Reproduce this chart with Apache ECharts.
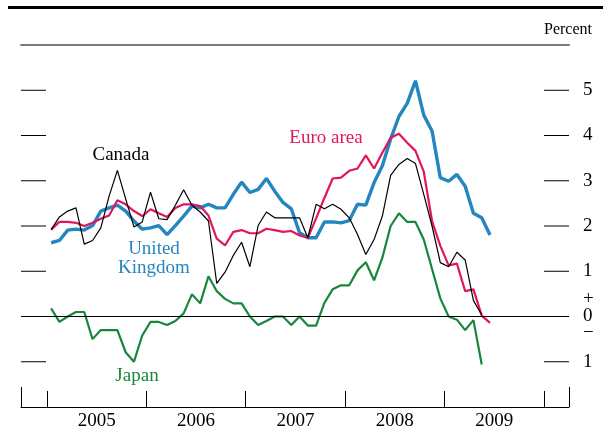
<!DOCTYPE html>
<html>
<head>
<meta charset="utf-8">
<script src="https://cdn.jsdelivr.net/npm/echarts@6/dist/echarts.min.js"></script>
<style>
  html, body { margin: 0; padding: 0; background: #fff; }
  #chart { width: 603px; height: 431px; }
</style>
</head>
<body>
<div id="chart"></div>
<script>
// Monthly observations, January 2005 onward
const months = [
  '2005-01','2005-02','2005-03','2005-04','2005-05','2005-06','2005-07','2005-08','2005-09','2005-10','2005-11','2005-12',
  '2006-01','2006-02','2006-03','2006-04','2006-05','2006-06','2006-07','2006-08','2006-09','2006-10','2006-11','2006-12',
  '2007-01','2007-02','2007-03','2007-04','2007-05','2007-06','2007-07','2007-08','2007-09','2007-10','2007-11','2007-12',
  '2008-01','2008-02','2008-03','2008-04','2008-05','2008-06','2008-07','2008-08','2008-09','2008-10','2008-11','2008-12',
  '2009-01','2009-02','2009-03','2009-04','2009-05','2009-06'
];

const canada = [
  1.92, 2.20, 2.33, 2.40, 1.60, 1.68, 1.96, 2.66, 3.23, 2.60, 1.98, 2.09,
  2.75, 2.16, 2.14, 2.46, 2.80, 2.46, 2.31, 2.11, 0.73, 0.98, 1.35, 1.64,
  1.10, 2.01, 2.31, 2.18, 2.18, 2.18, 2.18, 1.74, 2.48, 2.38, 2.48, 2.37,
  2.18, 1.81, 1.37, 1.70, 2.22, 3.12, 3.36, 3.49, 3.38, 2.70, 2.00, 1.19,
  1.10, 1.42, 1.25, 0.35, 0.04
];

const euroArea = [
  1.92, 2.09, 2.09, 2.07, 2.00, 2.07, 2.16, 2.23, 2.57, 2.48, 2.33, 2.22,
  2.37, 2.28, 2.20, 2.40, 2.48, 2.48, 2.44, 2.23, 1.72, 1.57, 1.87, 1.91,
  1.84, 1.84, 1.94, 1.91, 1.87, 1.89, 1.79, 1.74, 2.17, 2.62, 3.05, 3.07,
  3.22, 3.27, 3.56, 3.27, 3.62, 3.95, 4.04, 3.84, 3.66, 3.20, 2.11, 1.56,
  1.13, 1.17, 0.56, 0.60, 0.02, -0.14
];

const unitedKingdom = [
  1.63, 1.68, 1.91, 1.93, 1.91, 2.01, 2.33, 2.40, 2.46, 2.33, 2.11, 1.93,
  1.96, 2.01, 1.81, 2.01, 2.22, 2.44, 2.40, 2.48, 2.40, 2.40, 2.70, 2.97,
  2.74, 2.81, 3.05, 2.77, 2.52, 2.38, 1.85, 1.74, 1.74, 2.09, 2.09, 2.07,
  2.12, 2.48, 2.46, 2.96, 3.33, 3.92, 4.42, 4.71, 5.21, 4.45, 4.10, 3.07,
  2.99, 3.14, 2.88, 2.28, 2.18, 1.80
];

const japan = [
  0.18, -0.12, 0.00, 0.10, 0.10, -0.50, -0.30, -0.30, -0.30, -0.79, -1.00, -0.42,
  -0.12, -0.12, -0.19, -0.10, 0.07, 0.49, 0.29, 0.89, 0.56, 0.39, 0.29, 0.29,
  0.00, -0.19, -0.10, 0.00, 0.00, -0.19, 0.00, -0.20, -0.20, 0.30, 0.60, 0.69,
  0.69, 1.02, 1.20, 0.80, 1.30, 2.00, 2.28, 2.09, 2.09, 1.70, 1.05, 0.40,
  0.00, -0.07, -0.30, -0.08, -1.06
];

const yearLabels = ['2005', '2006', '2007', '2008', '2009'];
const valueTicks = [-1, 0, 1, 2, 3, 4, 5];

// Months are placed at mid-month on a linear axis counted from January 2005
const FIRST_YEAR = 2005;
function monthPos(m) {
  const [y, mo] = m.split('-').map(Number);
  return (y - FIRST_YEAR) * 12 + (mo - 1) + 0.5;
}
function toPoints(values) {
  return values.map((v, i) => [monthPos(months[i]), v]);
}

const FONT = '"Liberation Serif", "Times New Roman", serif';
const X_MIN = -3.14, X_MAX = 63.04;
const DASH_LEN = 25;
const yearStarts = yearLabels.map((_, i) => i * 12).concat([yearLabels.length * 12]);
const yearMids = yearLabels.map((_, i) => i * 12 + 6);
const dashTicks = valueTicks.filter(v => v !== 0);

const COLORS = {
  canada: '#000000',
  euro: '#e2165a',
  uk: '#2386bf',
  japan: '#16883b'
};

const chart = echarts.init(document.getElementById('chart'), null, { renderer: 'canvas' });

const sideAxis = (pos, withLabels) => ({
  type: 'value',
  position: pos,
  min: -2,
  max: 6,
  axisLine: { show: false, onZero: false },
  axisTick: { show: false },
  axisLabel: withLabels ? {
    show: true,
    customValues: valueTicks,
    margin: 14,
    color: '#000',
    fontFamily: FONT,
    fontSize: 19,
    formatter: v => v === 0 ? '{s|+}\n{n|0}\n{s|\u2212}' : String(Math.abs(v)),
    rich: {
      s: { fontFamily: FONT, fontSize: 19, lineHeight: 17, color: '#000' },
      n: { fontFamily: FONT, fontSize: 19, lineHeight: 17, color: '#000' }
    }
  } : { show: false },
  splitLine: { show: false }
});

// Short dashes at each value tick, on both inner edges of the plot
function renderDashes(params, api) {
  const v = api.value(0);
  const left = api.coord([X_MIN, v]);
  const right = api.coord([X_MAX, v]);
  const style = { stroke: '#000', lineWidth: 1 };
  return {
    type: 'group',
    children: [
      { type: 'line', shape: { x1: left[0], y1: left[1], x2: left[0] + DASH_LEN, y2: left[1] }, style },
      { type: 'line', shape: { x1: right[0] - DASH_LEN, y1: right[1], x2: right[0], y2: right[1] }, style }
    ]
  };
}

const option = {
  animation: false,
  backgroundColor: '#fff',
  grid: { left: 21, right: 34, top: 45, bottom: 23 },
  xAxis: [
    {
      type: 'value', position: 'bottom', min: X_MIN, max: X_MAX,
      axisLine: { show: true, onZero: false, lineStyle: { color: '#000', width: 1 } },
      axisTick: { show: true, inside: true, length: 16, customValues: yearStarts, lineStyle: { color: '#000', width: 1 } },
      axisLabel: {
        show: true, customValues: yearMids, margin: 5,
        color: '#000', fontFamily: FONT, fontSize: 19,
        formatter: v => yearLabels[Math.round((v - 6) / 12)]
      },
      splitLine: { show: false }
    },
    {
      type: 'value', position: 'top', min: X_MIN, max: X_MAX,
      axisLine: { show: true, onZero: false, lineStyle: { color: '#7a7a7a', width: 2 } },
      axisTick: { show: false }, axisLabel: { show: false }, splitLine: { show: false }
    },
    {
      type: 'value', position: 'bottom', min: X_MIN, max: X_MAX,
      axisLine: { show: false, onZero: false },
      axisTick: { show: true, inside: true, length: 20, customValues: [X_MIN, X_MAX], lineStyle: { color: '#000', width: 1 } },
      axisLabel: { show: false }, splitLine: { show: false }
    }
  ],
  yAxis: [sideAxis('left', false), sideAxis('right', true)],
  series: [
    {
      name: 'ticks', type: 'custom', silent: true, z: 1,
      xAxisIndex: 0, yAxisIndex: 0,
      data: dashTicks.map(v => [v]),
      encode: { y: 0 },
      renderItem: renderDashes
    },
    {
      name: 'United Kingdom', type: 'line', symbol: 'none', z: 2,
      data: toPoints(unitedKingdom),
      lineStyle: { color: COLORS.uk, width: 3.4 }
    },
    {
      name: 'Japan', type: 'line', symbol: 'none', z: 3,
      data: toPoints(japan),
      lineStyle: { color: COLORS.japan, width: 2.2 },
      markLine: {
        silent: true, symbol: ['none', 'none'], label: { show: false },
        lineStyle: { color: '#000', width: 1, type: 'solid' },
        data: [{ yAxis: 0 }]
      }
    },
    {
      name: 'Euro area', type: 'line', symbol: 'none', z: 4,
      data: toPoints(euroArea),
      lineStyle: { color: COLORS.euro, width: 2.2 }
    },
    {
      name: 'Canada', type: 'line', symbol: 'none', z: 5,
      data: toPoints(canada),
      lineStyle: { color: COLORS.canada, width: 1.2 }
    }
  ],
  graphic: [
    { type: 'rect', left: 8, top: 6, shape: { width: 595, height: 3 }, style: { fill: '#000' } },
    { type: 'text', x: 592, y: 30, style: { text: 'Percent', font: '16px ' + FONT, fill: '#000', textAlign: 'right', textVerticalAlign: 'middle' } },
    { type: 'text', x: 121, y: 155, style: { text: 'Canada', font: '19px ' + FONT, fill: COLORS.canada, textAlign: 'center', textVerticalAlign: 'middle' } },
    { type: 'text', x: 326, y: 138, style: { text: 'Euro area', font: '19px ' + FONT, fill: COLORS.euro, textAlign: 'center', textVerticalAlign: 'middle' } },
    { type: 'text', x: 154, y: 249, style: { text: 'United', font: '19px ' + FONT, fill: COLORS.uk, textAlign: 'center', textVerticalAlign: 'middle' } },
    { type: 'text', x: 154, y: 268, style: { text: 'Kingdom', font: '19px ' + FONT, fill: COLORS.uk, textAlign: 'center', textVerticalAlign: 'middle' } },
    { type: 'text', x: 137, y: 376, style: { text: 'Japan', font: '19px ' + FONT, fill: COLORS.japan, textAlign: 'center', textVerticalAlign: 'middle' } }
  ]
};

chart.setOption(option);
</script>
</body>
</html>
